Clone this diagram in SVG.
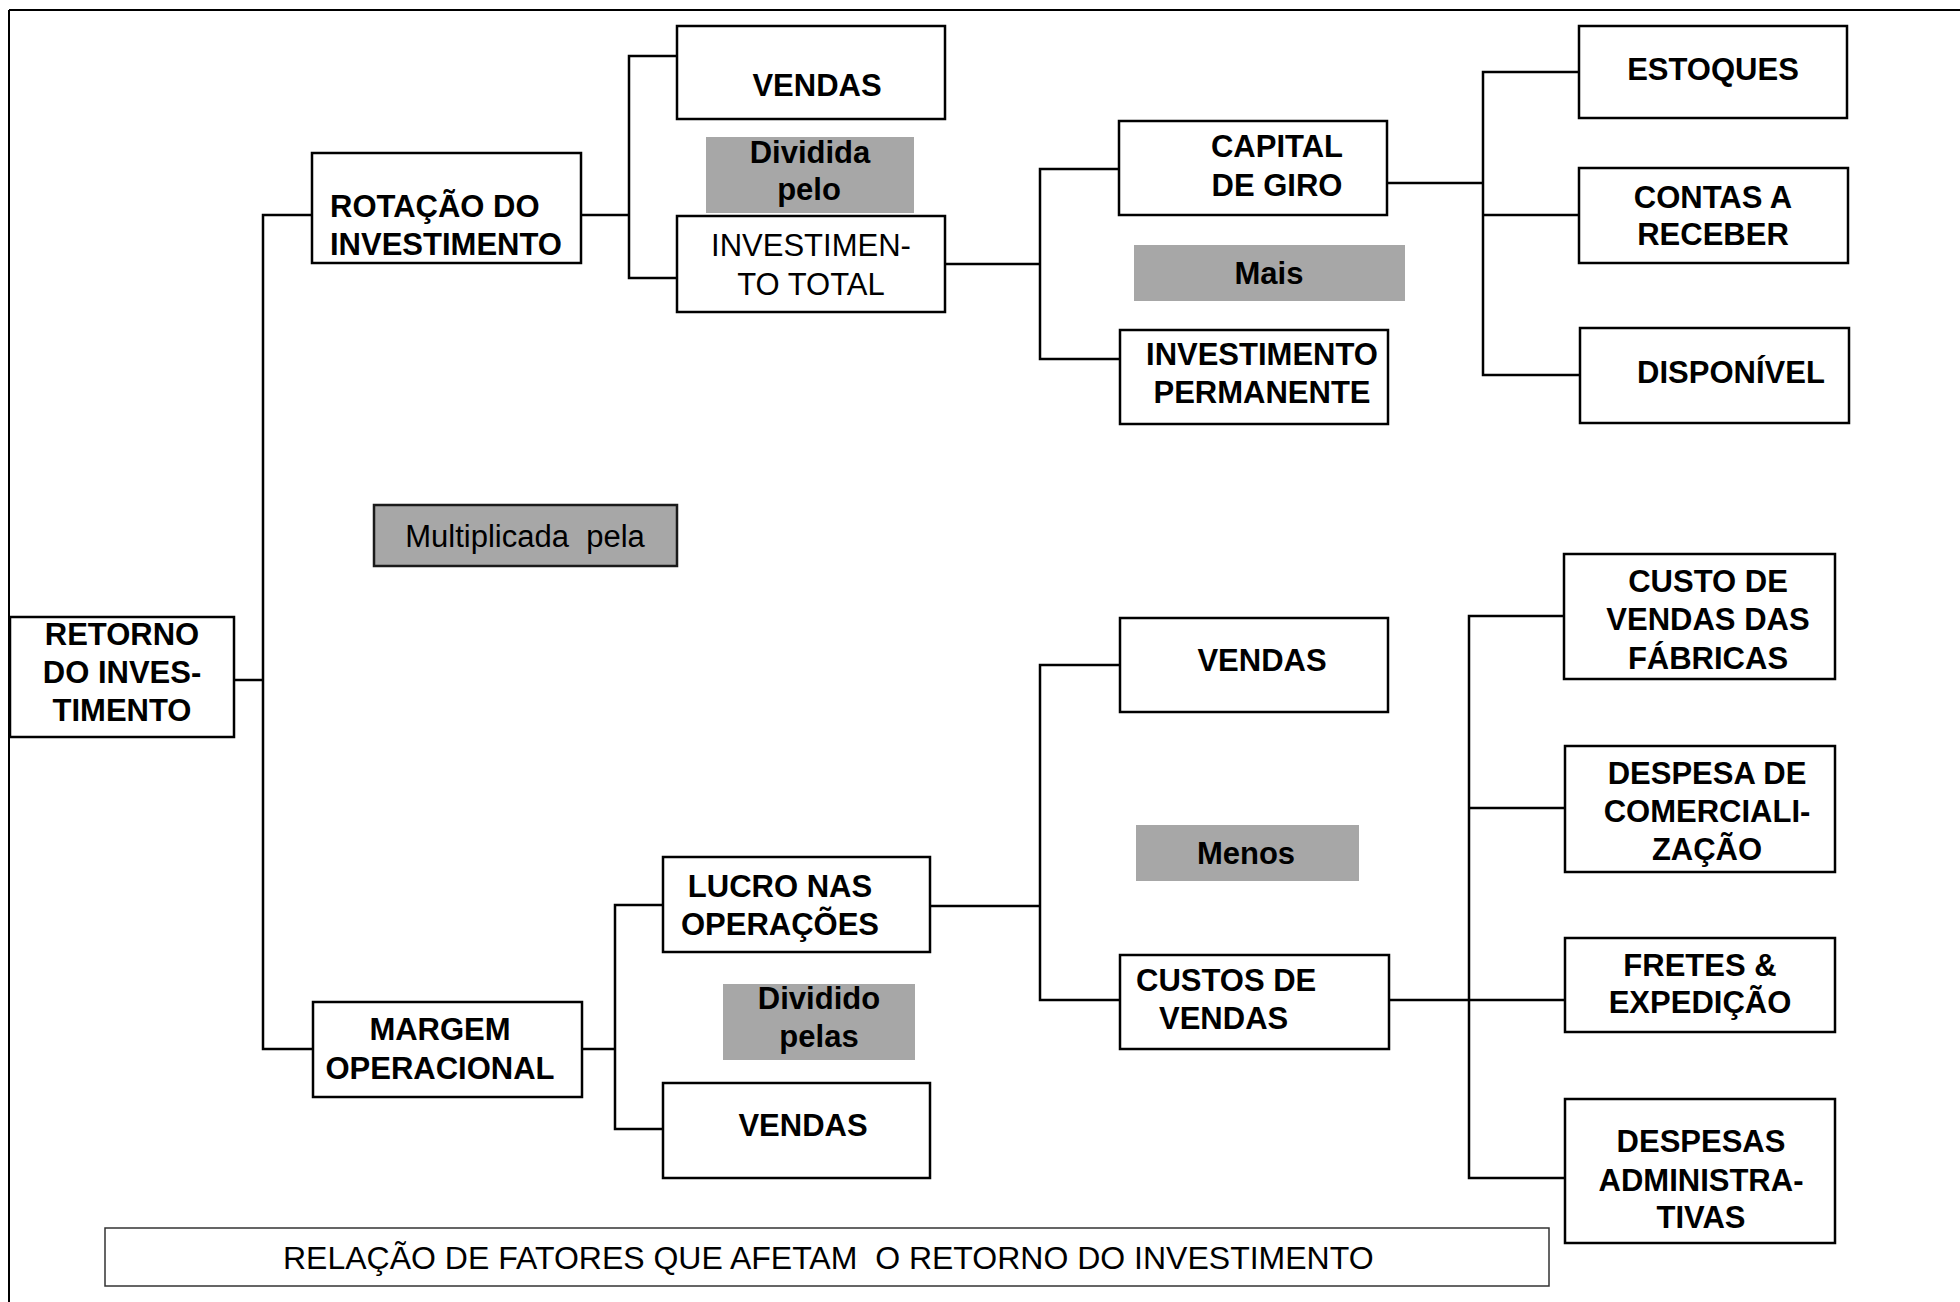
<svg xmlns="http://www.w3.org/2000/svg" width="1960" height="1302" viewBox="0 0 1960 1302">
  <style>
    .box { fill: #ffffff; stroke: #000000; stroke-width: 2.5; }
    .op { fill: #a7a7a7; stroke: none; }
    .op-framed { fill: #a7a7a7; stroke: #1a1a1a; stroke-width: 2.5; }
    .caption-box { fill: #ffffff; stroke: #333333; stroke-width: 1.5; }
    .frame { stroke: #000000; stroke-width: 2; fill: none; }
    .wire { stroke: #000000; stroke-width: 2.5; fill: none; }
    text { font-family: "Liberation Sans", Arial, Helvetica, sans-serif; font-size: 31px; fill: #000000; }
    .b { font-weight: bold; }
    .c { text-anchor: middle; }
    .cap { font-size: 32px; }
  </style>

  <rect x="0" y="0" width="1960" height="1302" fill="#ffffff"/>

  <!-- page frame: top and left rules -->
  <g id="frame">
    <line class="frame" x1="9" y1="10" x2="1960" y2="10"/>
    <line class="frame" x1="9" y1="10" x2="9" y2="1302"/>
  </g>

  <!-- tree connectors -->
  <g id="connectors">
    <!-- root to the two factors -->
    <polyline class="wire" points="234,680 263,680"/>
    <polyline class="wire" points="312,215 263,215 263,1049 312,1049"/>
    <!-- ROTAÇÃO DO INVESTIMENTO split -->
    <polyline class="wire" points="581,215 629,215"/>
    <polyline class="wire" points="677,56 629,56 629,278 677,278"/>
    <!-- INVESTIMENTO TOTAL split -->
    <polyline class="wire" points="945,264 1040,264"/>
    <polyline class="wire" points="1119,169 1040,169 1040,359 1120,359"/>
    <!-- CAPITAL DE GIRO split -->
    <polyline class="wire" points="1387,183 1483,183"/>
    <polyline class="wire" points="1579,72 1483,72 1483,375 1580,375"/>
    <polyline class="wire" points="1483,215 1579,215"/>
    <!-- MARGEM OPERACIONAL split -->
    <polyline class="wire" points="581,1049 615,1049"/>
    <polyline class="wire" points="663,905 615,905 615,1129 663,1129"/>
    <!-- LUCRO NAS OPERAÇÕES split -->
    <polyline class="wire" points="930,906 1040,906"/>
    <polyline class="wire" points="1120,665 1040,665 1040,1000 1120,1000"/>
    <!-- CUSTOS DE VENDAS split -->
    <polyline class="wire" points="1389,1000 1565,1000"/>
    <polyline class="wire" points="1564,616 1469,616 1469,1178 1565,1178"/>
    <polyline class="wire" points="1469,808 1565,808"/>
  </g>

  <!-- operator labels between siblings -->
  <g id="op-dividida-pelo">
    <rect class="op" x="706" y="137" width="208" height="76"/>
    <text class="b c" x="810" y="163">Dividida</text>
    <text class="b c" x="809" y="200">pelo</text>
  </g>
  <g id="op-mais">
    <rect class="op" x="1134" y="245" width="271" height="56"/>
    <text class="b c" x="1269" y="284">Mais</text>
  </g>
  <g id="op-multiplicada-pela">
    <rect class="op-framed" x="374" y="505" width="303" height="61"/>
    <text class="c" x="525" y="547" xml:space="preserve">Multiplicada  pela</text>
  </g>
  <g id="op-menos">
    <rect class="op" x="1136" y="825" width="223" height="56"/>
    <text class="b c" x="1246" y="864">Menos</text>
  </g>
  <g id="op-dividido-pelas">
    <rect class="op" x="723" y="984" width="192" height="76"/>
    <text class="b c" x="819" y="1009">Dividido</text>
    <text class="b c" x="819" y="1047">pelas</text>
  </g>

  <!-- nodes -->
  <g id="retorno-do-investimento">
    <rect class="box" x="10" y="617" width="224" height="120"/>
    <text class="b c" x="122" y="645">RETORNO</text>
    <text class="b c" x="122" y="683">DO INVES-</text>
    <text class="b c" x="122" y="721">TIMENTO</text>
  </g>

  <g id="rotacao-do-investimento">
    <rect class="box" x="312" y="153" width="269" height="110"/>
    <text class="b" x="330" y="217">ROTAÇÃO DO</text>
    <text class="b" x="330" y="255">INVESTIMENTO</text>
  </g>

  <g id="vendas-1">
    <rect class="box" x="677" y="26" width="268" height="93"/>
    <text class="b c" x="817" y="96">VENDAS</text>
  </g>

  <g id="investimento-total">
    <rect class="box" x="677" y="216" width="268" height="96"/>
    <text class="c" x="811" y="256">INVESTIMEN-</text>
    <text class="c" x="811" y="295">TO TOTAL</text>
  </g>

  <g id="capital-de-giro">
    <rect class="box" x="1119" y="121" width="268" height="94"/>
    <text class="b c" x="1277" y="157">CAPITAL</text>
    <text class="b c" x="1277" y="196">DE GIRO</text>
  </g>

  <g id="investimento-permanente">
    <rect class="box" x="1120" y="330" width="268" height="94"/>
    <text class="b c" x="1262" y="365">INVESTIMENTO</text>
    <text class="b c" x="1262" y="403">PERMANENTE</text>
  </g>

  <g id="estoques">
    <rect class="box" x="1579" y="26" width="268" height="92"/>
    <text class="b c" x="1713" y="80">ESTOQUES</text>
  </g>

  <g id="contas-a-receber">
    <rect class="box" x="1579" y="168" width="269" height="95"/>
    <text class="b c" x="1713" y="208">CONTAS A</text>
    <text class="b c" x="1713" y="245">RECEBER</text>
  </g>

  <g id="disponivel">
    <rect class="box" x="1580" y="328" width="269" height="95"/>
    <text class="b c" x="1731" y="383">DISPONÍVEL</text>
  </g>

  <g id="margem-operacional">
    <rect class="box" x="313" y="1002" width="269" height="95"/>
    <text class="b c" x="440" y="1040">MARGEM</text>
    <text class="b c" x="440" y="1079">OPERACIONAL</text>
  </g>

  <g id="lucro-nas-operacoes">
    <rect class="box" x="663" y="857" width="267" height="95"/>
    <text class="b c" x="780" y="897">LUCRO NAS</text>
    <text class="b c" x="780" y="935">OPERAÇÕES</text>
  </g>

  <g id="vendas-2">
    <rect class="box" x="663" y="1083" width="267" height="95"/>
    <text class="b c" x="803" y="1136">VENDAS</text>
  </g>

  <g id="vendas-3">
    <rect class="box" x="1120" y="618" width="268" height="94"/>
    <text class="b c" x="1262" y="671">VENDAS</text>
  </g>

  <g id="custos-de-vendas">
    <rect class="box" x="1120" y="955" width="269" height="94"/>
    <text class="b" x="1136" y="991">CUSTOS DE</text>
    <text class="b" x="1159" y="1029">VENDAS</text>
  </g>

  <g id="custo-de-vendas-das-fabricas">
    <rect class="box" x="1564" y="554" width="271" height="125"/>
    <text class="b c" x="1708" y="592">CUSTO DE</text>
    <text class="b c" x="1708" y="630">VENDAS DAS</text>
    <text class="b c" x="1708" y="669">FÁBRICAS</text>
  </g>

  <g id="despesa-de-comercializacao">
    <rect class="box" x="1565" y="746" width="270" height="126"/>
    <text class="b c" x="1707" y="784">DESPESA DE</text>
    <text class="b c" x="1707" y="822">COMERCIALI-</text>
    <text class="b c" x="1707" y="860">ZAÇÃO</text>
  </g>

  <g id="fretes-e-expedicao">
    <rect class="box" x="1565" y="938" width="270" height="94"/>
    <text class="b c" x="1700" y="976">FRETES &amp;</text>
    <text class="b c" x="1700" y="1013">EXPEDIÇÃO</text>
  </g>

  <g id="despesas-administrativas">
    <rect class="box" x="1565" y="1099" width="270" height="144"/>
    <text class="b c" x="1701" y="1152">DESPESAS</text>
    <text class="b c" x="1701" y="1191">ADMINISTRA-</text>
    <text class="b c" x="1701" y="1228">TIVAS</text>
  </g>

  <!-- caption -->
  <g id="caption">
    <rect class="caption-box" x="105" y="1228" width="1444" height="58"/>
    <text class="cap" x="283" y="1269" xml:space="preserve">RELAÇÃO DE FATORES QUE AFETAM  O RETORNO DO INVESTIMENTO</text>
  </g>
</svg>
